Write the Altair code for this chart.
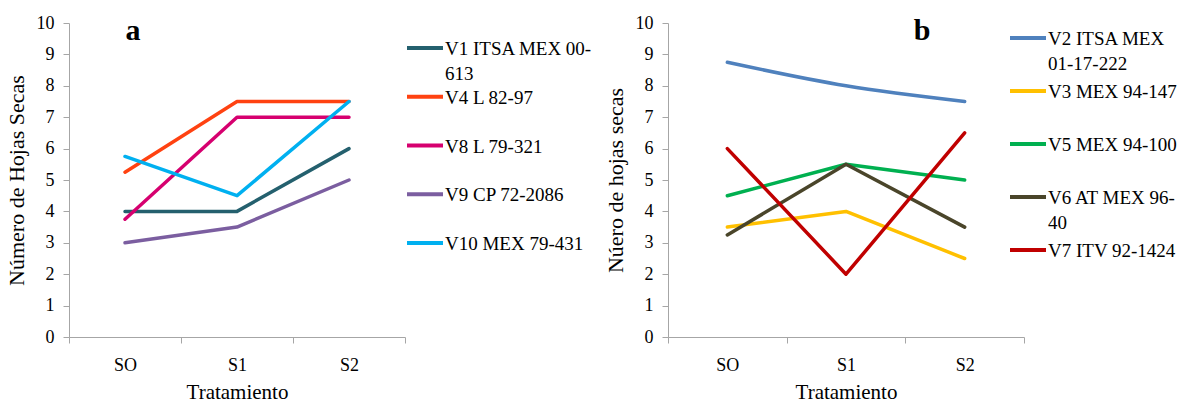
import altair as alt
import pandas as pd

FONT = "Liberation Serif"

categories = ["SO", "S1", "S2"]

# Panel a
names_a = ["V1 ITSA MEX  00-|613", "V4 L 82-97", "V8 L 79-321", "V9 CP 72-2086", "V10 MEX 79-431"]
colors_a = ["#24606E", "#FF4211", "#D6006F", "#7B5EA0", "#00B0F0"]
v1 = [4, 4, 6]
v4 = [5.25, 7.5, 7.5]
v8 = [3.75, 7, 7]
v9 = [3, 3.5, 5]
v10 = [5.75, 4.5, 7.5]
series_a = [v1, v4, v8, v9, v10]

# Panel b
names_b = ["V2 ITSA MEX|01-17-222", "V3 MEX 94-147", "V5 MEX 94-100", "V6 AT MEX 96-|40", "V7 ITV 92-1424"]
colors_b = ["#4F81BD", "#FFC000", "#00B050", "#4A452A", "#C00000"]
v2 = [8.75, 8, 7.5]
v3 = [3.5, 4, 2.5]
v5 = [4.5, 5.5, 5]
v6 = [3.25, 5.5, 3.5]
v7 = [6, 2, 6.5]
series_b = [v2, v3, v5, v6, v7]
smooth_b = [True, False, False, False, False]

y_ticks = list(range(0, 11))


def long_df(names, series, smooth=None):
    rows = []
    for i, (n, s) in enumerate(zip(names, series)):
        for c, v in zip(categories, s):
            rows.append({"serie": n, "trat": c, "val": v, "order": i,
                         "smooth": bool(smooth[i]) if smooth else False})
    return pd.DataFrame(rows)


def legend_df(names):
    return pd.DataFrame({"serie": names, "idx": list(range(len(names)))})


def axis_x():
    return alt.Axis(title="Tratamiento", labelAngle=0, tickBand="extent",
                    labelFont=FONT, labelFontSize=18, labelColor="black", labelPadding=13,
                    titleFont=FONT, titleFontSize=21, titleFontWeight="normal", titleColor="black",
                    titlePadding=7, domainColor="#A6A6A6", tickColor="#A6A6A6", tickSize=6,
                    grid=False)


def axis_y(title):
    return alt.Axis(title=title, values=y_ticks, labelFont=FONT, labelFontSize=18,
                    labelColor="black", labelPadding=9, titleFont=FONT, titleFontSize=22,
                    titleFontWeight="normal", titleColor="black", titlePadding=8,
                    domainColor="#A6A6A6", tickColor="#A6A6A6", tickSize=6, grid=False)


def panel(names, colors, series, ytitle, letter, letter_x, width, smooth=None):
    df = long_df(names, series, smooth)
    x = alt.X("trat:N", sort=categories,
              scale=alt.Scale(type="band", paddingInner=0, paddingOuter=0), axis=axis_x())
    y = alt.Y("val:Q", scale=alt.Scale(domain=[0, 10], nice=False), axis=axis_y(ytitle))
    color = alt.Color("serie:N", scale=alt.Scale(domain=names, range=colors), legend=None)
    base = alt.Chart(df)
    layers = [
        base.transform_filter("!datum.smooth").mark_line(strokeWidth=3.5, strokeCap="round",
                                                         strokeJoin="round").encode(
            x=x, y=y, color=color, detail="serie:N"),
    ]
    if smooth and any(smooth):
        layers.append(
            base.transform_filter("datum.smooth").mark_line(strokeWidth=3.5, strokeCap="round",
                                                            interpolate="monotone").encode(
                x=x, y=y, color=color, detail="serie:N"))
    lab = alt.Chart(pd.DataFrame({"t": [letter]})).mark_text(
        font=FONT, fontSize=30, fontWeight="bold", align="center", baseline="alphabetic",
        color="black").encode(text="t:N", x=alt.value(letter_x), y=alt.value(17))
    layers.append(lab)
    return alt.layer(*layers).properties(width=width, height=314)


def legend(names, colors, y_range, x0, width):
    df = legend_df(names)
    y = alt.Y("idx:Q", scale=alt.Scale(domain=[0, len(names) - 1], range=y_range), axis=None)
    color = alt.Color("serie:N", scale=alt.Scale(domain=names, range=colors), legend=None)
    rules = alt.Chart(df).mark_rule(strokeWidth=4).encode(
        x=alt.value(x0), x2=alt.value(x0 + 36), y=y, color=color)
    texts = alt.Chart(df).mark_text(font=FONT, fontSize=19, align="left", baseline="alphabetic",
                                    dy=7, lineBreak="|", lineHeight=25, color="black").encode(
        x=alt.value(x0 + 38), y=y, text="serie:N")
    return alt.layer(rules, texts).properties(width=width, height=314)


panel_a = panel(names_a, colors_a, series_a, "Número de Hojas Secas", "a", 64, 336)
legend_a = legend(names_a, colors_a, [25, 220], 2, 263)
panel_b = panel(names_b, colors_b, series_b, "Núero de hojas secas", "b", 254, 356, smooth_b)
legend_b = legend(names_b, colors_b, [15, 227], -14, 157)

chart = alt.hconcat(panel_a, legend_a, panel_b, legend_b, spacing=0, bounds="flush").resolve_scale(
    color="independent", y="independent", x="independent").configure_view(
    stroke=None).properties(padding={"left": 5, "top": 14, "right": 0, "bottom": 0},
                            background="white")

chart.save("out.html", embed_options={"renderer": "svg", "actions": False})
